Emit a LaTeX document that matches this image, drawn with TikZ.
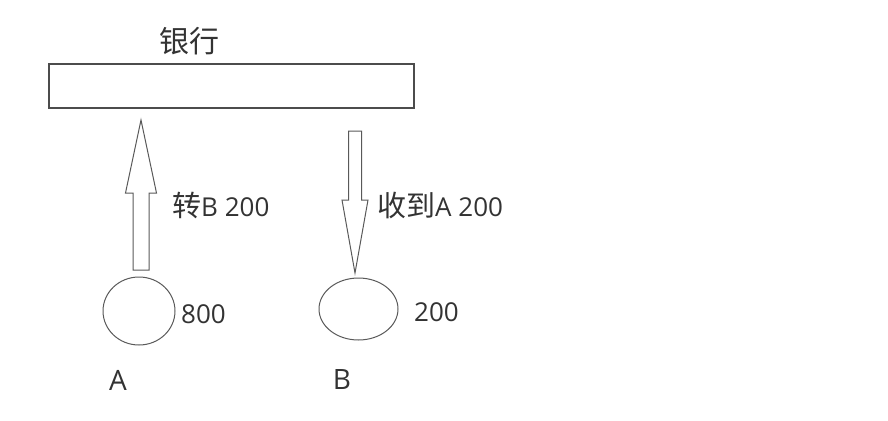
\documentclass[tikz,border=0pt]{standalone}
\usepackage{fontspec}
\setmainfont{Open Sans}
\newfontfamily\cjk{Noto Sans CJK SC}
\newcommand\zh[1]{{\cjk\fontsize{29}{30}\selectfont #1}}
\usetikzlibrary{shapes.geometric}

\begin{document}
\begin{tikzpicture}[x=1pt, y=-1pt,
    lbl/.style={font=\fontsize{26}{30}\selectfont, inner sep=0, text=black!80},
    acct/.style={draw=black!65, line width=1pt, ellipse, inner sep=0}]
    \useasboundingbox (0,0) rectangle (888,420);
    \newcommand\upshaft{8}
    \newcommand\uphead{7.5}
    \newcommand\dnshaft{6.5}
    \newcommand\dnhead{6.5}

    % bank
    \node[lbl, font=\cjk\fontsize{30}{32}\selectfont] (banktxt) at (189,41) {银行};
    \node[draw=black!70, line width=1.1pt, minimum width=365, minimum height=44, inner sep=0] (bank) at (231.5,86) {};

    % accounts
    \node[acct, minimum width=72, minimum height=68] (A) at (139,311) {};
    \node[acct, minimum width=79, minimum height=62] (B) at (358.5,309) {};
    \node[lbl, anchor=west] (amtA) at (181,314) {800};
    \node[lbl, anchor=west] (amtB) at (414,312) {200};
    \node[lbl, font=\fontsize{28}{32}\selectfont] (nameA) at (118,380) {A};
    \node[lbl, font=\fontsize{28}{32}\selectfont] (nameB) at (342,380) {B};

    % transfer A -> bank
    \coordinate (upfoot) at (141,270);
    \coordinate (uptip) at (141,120);
    \draw[black!65, line width=1pt] (upfoot) ++(-\upshaft,0) -- ++(0,-77) -- ++(-\uphead,0) -- (uptip)
        -- ++(\upshaft+\uphead,73) -- ++(-\uphead,0) |- (upfoot) -- cycle;
    \node[lbl, anchor=west] (sendtxt) at (172,205) {\zh{转}B 200};

    % bank -> B
    \coordinate (dntop) at (355,131);
    \coordinate (dntip) at (355,273);
    \draw[black!65, line width=1pt] (dntop) ++(-\dnshaft,0) -- ++(0,69) -- ++(-\dnhead,0) -- (dntip)
        -- ++(\dnshaft+\dnhead,-73) -- ++(-\dnhead,0) |- (dntop) -- cycle;
    \node[lbl, anchor=west] (recvtxt) at (377,205) {\zh{收到}A 200};
\end{tikzpicture}
\end{document}
